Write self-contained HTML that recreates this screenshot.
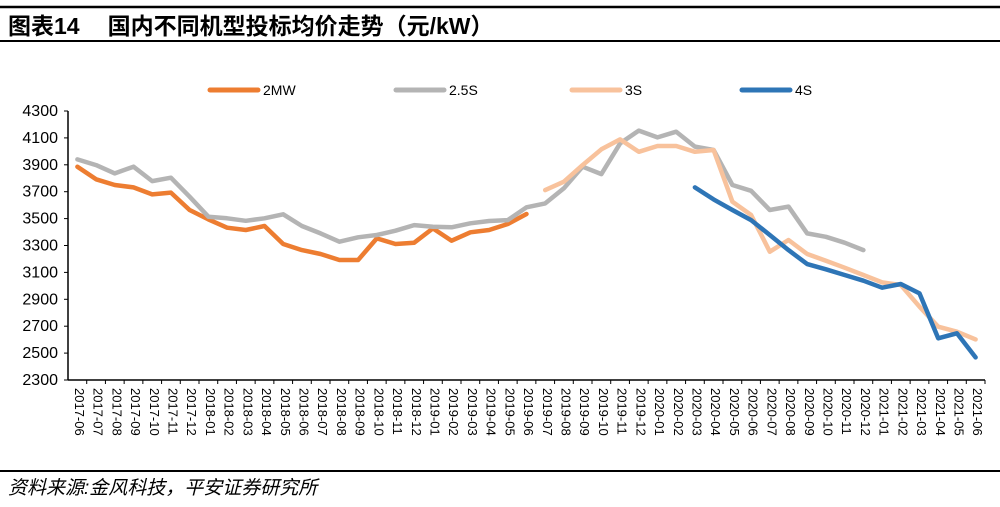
<!DOCTYPE html>
<html><head><meta charset="utf-8"><style>
body{margin:0;background:#fff;width:1000px;height:502px;overflow:hidden;font-family:"Liberation Sans","Noto Sans CJK SC",sans-serif}
</style></head><body>
<svg id="c" width="1000" height="502" xmlns="http://www.w3.org/2000/svg">
<line x1="0" y1="7" x2="1000" y2="7" stroke="#000" stroke-width="2.5"/>
<text x="8" y="34" font-size="23" font-weight="bold" font-family="Liberation Sans,Noto Sans CJK SC,sans-serif">图表14<tspan dx="28">国内不同机型投标均价走势（元/kW）</tspan></text>
<line x1="0" y1="41" x2="1000" y2="41" stroke="#000" stroke-width="2"/>
<line x1="0" y1="471" x2="1000" y2="471" stroke="#000" stroke-width="2"/>
<text x="8" y="494" font-size="19" font-style="italic" font-family="Liberation Sans,Noto Sans CJK SC,sans-serif">资料来源:金风科技，平安证券研究所</text>
<g id="axes"></g><g id="series"></g><g id="legend"></g>
</svg>
<script>
const categories=["2017-06","2017-07","2017-08","2017-09","2017-10","2017-11","2017-12","2018-01","2018-02","2018-03","2018-04","2018-05","2018-06","2018-07","2018-08","2018-09","2018-10","2018-11","2018-12","2019-01","2019-02","2019-03","2019-04","2019-05","2019-06","2019-07","2019-08","2019-09","2019-10","2019-11","2019-12","2020-01","2020-02","2020-03","2020-04","2020-05","2020-06","2020-07","2020-08","2020-09","2020-10","2020-11","2020-12","2021-01","2021-02","2021-03","2021-04","2021-05","2021-06"];
const yTicks=[2300,2500,2700,2900,3100,3300,3500,3700,3900,4100,4300];
const s2MW=[3886,3792,3750,3732,3680,3693,3564,3494,3432,3415,3445,3311,3266,3237,3192,3192,3353,3311,3321,3427,3336,3398,3415,3460,3534];
const s25S=[3940,3898,3836,3886,3779,3804,3663,3514,3502,3484,3502,3532,3445,3390,3328,3361,3378,3410,3452,3440,3435,3465,3482,3489,3584,3613,3725,3886,3831,4059,4154,4104,4146,4035,4010,3750,3707,3564,3589,3390,3365,3321,3266];
const s3S=[3712,3774,3898,4015,4089,3997,4040,4040,3997,4010,3626,3527,3254,3341,3237,3187,3135,3081,3026,3006,2845,2696,2659,2602];
const s3SStart=25;
const s4S=[3732,3643,3564,3489,3378,3266,3162,3123,3081,3038,2986,3014,2944,2610,2647,2468];
const s4SStart=33;
const seriesNames=["2MW","2.5S","3S","4S"];

const NS="http://www.w3.org/2000/svg";
const X0=68,X1=985,Y0=380,Y1=111,VMIN=2300,VMAX=4300;
const step=(X1-X0)/categories.length;
const xPos=i=>X0+step*(i+0.5);
const yPos=v=>Y0-(v-VMIN)/(VMAX-VMIN)*(Y0-Y1);
function mk(tag,attrs,parent){const e=document.createElementNS(NS,tag);for(const k in attrs)e.setAttribute(k,attrs[k]);parent.appendChild(e);return e;}
const axes=document.getElementById('axes');
let e=mk('line',{x1:X0,y1:Y1,x2:X0,y2:Y0,stroke:'#000','stroke-width':1.5},axes);


e=mk('line',{x1:X0,y1:Y0,x2:X1,y2:Y0,stroke:'#000','stroke-width':1.5},axes);


yTicks.forEach(v=>{
  const y=yPos(v);
  let t=mk('line',{x1:X0-4,y1:y,x2:X0,y2:y,stroke:'#000','stroke-width':1},axes);
  
  
  let l=mk('text',{x:58,y:y+5,'font-size':16,'text-anchor':'end'},axes);
  l.textContent=v;
  
  
});
categories.forEach((c,i)=>{
  const xb=X0+step*(i+1);
  let t=mk('line',{x1:xb,y1:Y0,x2:xb,y2:Y0+4,stroke:'#000','stroke-width':1},axes);
  
  
  const x=xPos(i)+1;
  let l=mk('text',{x:x,y:388,'font-size':13,transform:`rotate(90 ${x} 388)`,'dominant-baseline':'middle'},axes);
  l.textContent=c;
  
  
});
const sg=document.getElementById('series');
function drawLine(vals,start,color,name){
  const d=vals.map((v,k)=>(k?'L':'M')+xPos(start+k).toFixed(1)+','+yPos(v).toFixed(1)).join(' ');
  const p=mk('path',{d:d,fill:'none',stroke:color,'stroke-width':4.5,'stroke-linejoin':'round','stroke-linecap':'round'},sg);
  
  
}
const colors=['#ED7D31','#B4B4B4','#F8C29C','#2E75B6'];
drawLine(s2MW,0,colors[0],'series-2mw-line');
drawLine(s25S,0,colors[1],'series-2-5s-line');
drawLine(s3S,s3SStart,colors[2],'series-3s-line');
drawLine(s4S,s4SStart,colors[3],'series-4s-line');
const lg=document.getElementById('legend');
const lx=[210,396,572,742];
seriesNames.forEach((n,i)=>{
  const g=mk('g',{},lg);
  
  
  mk('line',{x1:lx[i],y1:90,x2:lx[i]+48,y2:90,stroke:colors[i],'stroke-width':5,'stroke-linecap':'round'},g);
  const t=mk('text',{x:lx[i]+53,y:95,'font-size':14},g);
  t.textContent=n;
});
</script>
</body></html>
